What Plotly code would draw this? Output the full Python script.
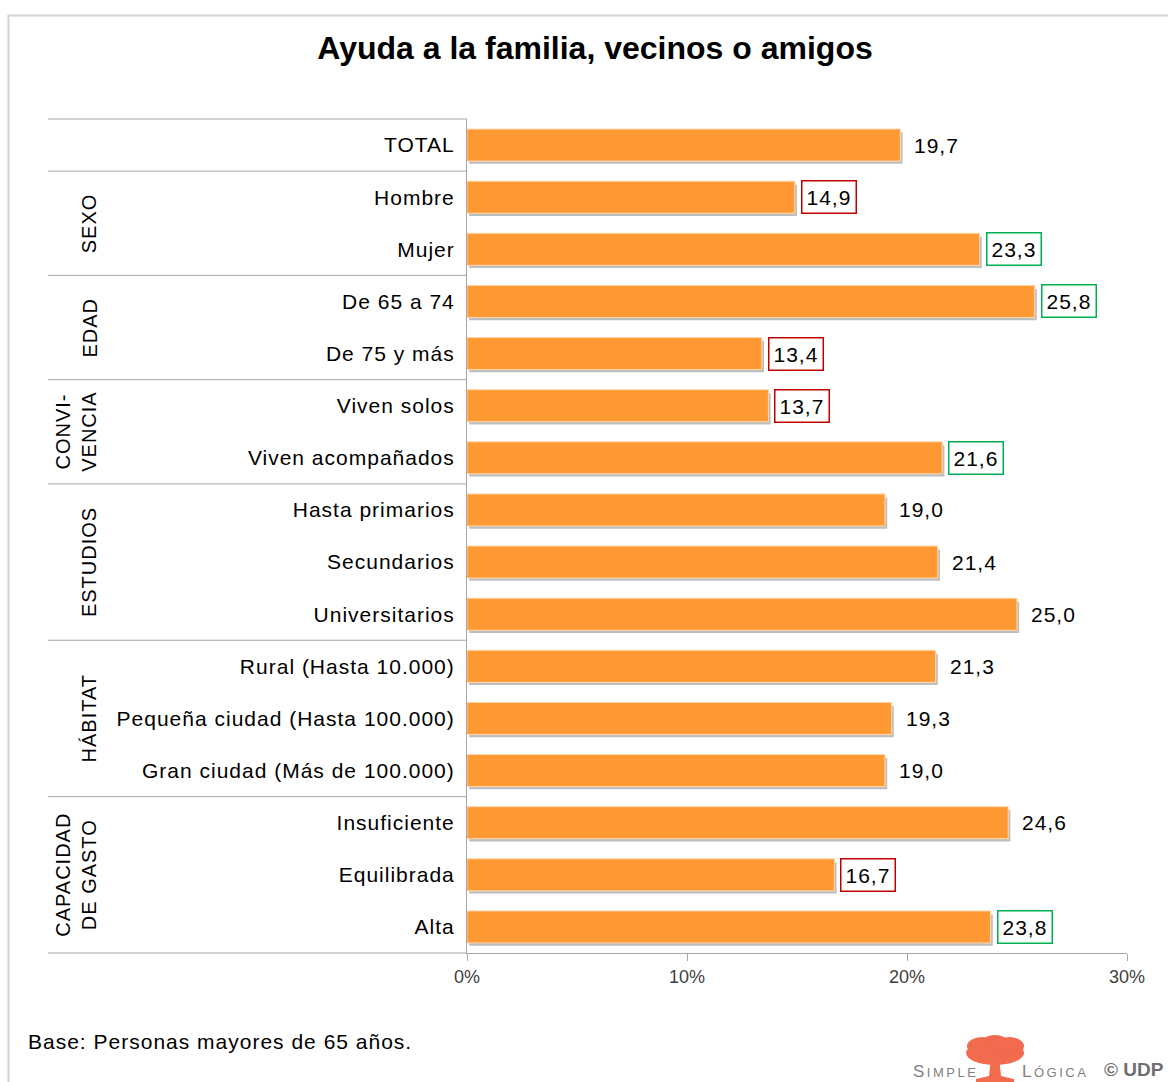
import plotly.graph_objects as go

# data
categories = [
    "TOTAL",
    "Hombre", "Mujer",
    "De 65 a 74", "De 75 y más",
    "Viven solos", "Viven acompañados",
    "Hasta primarios", "Secundarios", "Universitarios",
    "Rural (Hasta 10.000)", "Pequeña ciudad (Hasta 100.000)", "Gran ciudad (Más de 100.000)",
    "Insuficiente", "Equilibrada", "Alta",
]
values = [19.7, 14.9, 23.3, 25.8, 13.4, 13.7, 21.6, 19.0, 21.4, 25.0,
          21.3, 19.3, 19.0, 24.6, 16.7, 23.8]
# significance vs total: "low" / "high" / ""
highlight = ["", "low", "high", "high", "low", "low", "high", "", "", "",
             "", "", "", "", "low", "high"]
groups = ["SEXO", "EDAD", "CONVI-<br>VENCIA", "ESTUDIOS", "HÁBITAT", "CAPACIDAD<br>DE GASTO"]
group_rows = [(1, 3), (3, 5), (5, 7), (7, 10), (10, 13), (13, 16)]
x_ticks = [0, 10, 20, 30]
x_tick_labels = ["0%", "10%", "20%", "30%"]

FONT = "Arial, Liberation Sans, sans-serif"
ORANGE = "#FF9933"
GRID = "#A6A6A6"
N = len(categories)

W, H = 1168, 1082
# plot area in page pixels
L, R, T, B = 467, 1127, 119, 953


def xp(px):
    return (px - L) / (R - L)


def yp(py):
    return (B - py) / (B - T)


def spaced(s, px=1):
    return f'<span style="letter-spacing:{px}px">{s}</span>'


fig = go.Figure()

# soft shadow under each bar
fig.add_trace(go.Bar(
    x=values, y=categories, base=0.1, orientation="h",
    width=0.6, offset=-0.24,
    marker=dict(color="rgba(70,70,70,0.35)", line=dict(width=0)),
    hoverinfo="skip", showlegend=False,
))
fig.add_trace(go.Bar(
    x=values, y=categories, orientation="h",
    width=0.615, offset=-0.3075,
    marker=dict(color=ORANGE, line=dict(color="#FFD9B0", width=1)),
    showlegend=False,
))

annotations = []
box_colors = {"low": "#C00000", "high": "#00B050"}
for cat, v, h in zip(categories, values, highlight):
    annotations.append(dict(
        x=v, y=cat, xref="x", yref="y",
        text=spaced(f"{v:.1f}".replace(".", ",")),
        showarrow=False, xanchor="left", yanchor="middle",
        xshift=6 if h else 10,
        font=dict(family=FONT, size=21, color="#000000"),
        bgcolor="#FFFFFF" if h else "rgba(0,0,0,0)",
        bordercolor=box_colors.get(h, "rgba(0,0,0,0)"),
        borderwidth=1.5 if h else 0, borderpad=4,
    ))

# separators on the left
shapes = []
for k in [0, 1, 3, 5, 7, 10, 13, 16]:
    y = 1 - k / N
    shapes.append(dict(type="line", xref="paper", yref="paper",
                       x0=xp(48), x1=0, y0=y, y1=y,
                       line=dict(color=GRID, width=1)))

# outer frame
shapes.append(dict(type="rect", xref="paper", yref="paper",
                   x0=xp(8.5), x1=xp(1200), y0=yp(15.5), y1=yp(1120),
                   line=dict(color="#D4D4D4", width=2), layer="below"))

# tree logo
TREE = "#F26B4F"
for cx, cy, rx, ry in [(995, 1053, 29, 12), (982, 1046, 15, 9), (1009, 1046, 15, 9), (995, 1041, 12, 6)]:
    shapes.append(dict(type="circle", xref="paper", yref="paper",
                       x0=xp(cx - rx), x1=xp(cx + rx), y0=yp(cy - ry), y1=yp(cy + ry),
                       fillcolor=TREE, line=dict(width=0)))
trunk = [(991, 1058), (999, 1058), (1001, 1076), (1014, 1079), (1014, 1082),
         (976, 1082), (976, 1079), (989, 1076)]
path = "M " + " L ".join(f"{xp(a)},{yp(b)}" for a, b in trunk) + " Z"
shapes.append(dict(type="path", xref="paper", yref="paper", path=path,
                   fillcolor=TREE, line=dict(width=0)))

for name, (a, b) in zip(groups, group_rows):
    two = "<br>" in name
    text = "<br>".join(spaced(part) for part in name.split("<br>"))
    annotations.append(dict(
        text=text, textangle=-90, showarrow=False,
        xref="paper", yref="paper",
        x=xp(76 if two else 89), y=1 - (a + b) / 2 / N,
        xanchor="center", yanchor="middle",
        font=dict(family=FONT, size=20, color="#000000"),
    ))

annotations.append(dict(
    text=spaced("Base: Personas mayores de 65 años."), showarrow=False,
    xref="paper", yref="paper", x=xp(26), y=yp(1041),
    xanchor="left", yanchor="middle",
    font=dict(family=FONT, size=21, color="#000000"),
))
annotations.append(dict(
    text=spaced('<span style="font-size:17px">S</span>IMPLE', 2.5), showarrow=False,
    xref="paper", yref="paper", x=xp(945), y=yp(1071),
    xanchor="center", yanchor="middle",
    font=dict(family=FONT, size=13, color="#7F7F7F"),
))
annotations.append(dict(
    text=spaced('<span style="font-size:17px">L</span>ÓGICA', 2.5), showarrow=False,
    xref="paper", yref="paper", x=xp(1055), y=yp(1071),
    xanchor="center", yanchor="middle",
    font=dict(family=FONT, size=13, color="#7F7F7F"),
))
annotations.append(dict(
    text="<b>© UDP</b>", showarrow=False,
    xref="paper", yref="paper", x=xp(1134), y=yp(1069),
    xanchor="center", yanchor="middle",
    font=dict(family=FONT, size=19, color="#6E6E6E"),
))

fig.update_layout(
    width=W, height=H,
    margin=dict(l=L, r=W - R, t=T, b=H - B),
    paper_bgcolor="#FFFFFF", plot_bgcolor="#FFFFFF",
    barmode="overlay",
    title=dict(text="<b>Ayuda a la familia, vecinos o amigos</b>",
               x=595 / W, xanchor="center", y=1 - 48 / H, yanchor="middle",
               font=dict(family=FONT, size=32, color="#000000")),
    xaxis=dict(range=[0, 30], tickvals=x_ticks, ticktext=x_tick_labels,
               showgrid=False, zeroline=False, showline=True,
               linecolor=GRID, linewidth=1, ticks="outside", ticklen=7,
               tickcolor=GRID, fixedrange=True,
               tickfont=dict(family=FONT, size=18, color="#3F3F3F")),
    yaxis=dict(type="category", categoryorder="array", categoryarray=categories,
               tickvals=categories, ticktext=[spaced(c) for c in categories],
               range=[N - 0.5, -0.5], showgrid=False, zeroline=False,
               showline=True, linecolor=GRID, linewidth=1, ticks="",
               ticklabelstandoff=7, fixedrange=True,
               tickfont=dict(family=FONT, size=21, color="#000000")),
    shapes=shapes, annotations=annotations,
    showlegend=False,
)

# drop the default 8px page margin so the figure fills the window
fig.write_html("out.html", config={"displayModeBar": False},
               post_script="document.body.style.margin = '0px';")
